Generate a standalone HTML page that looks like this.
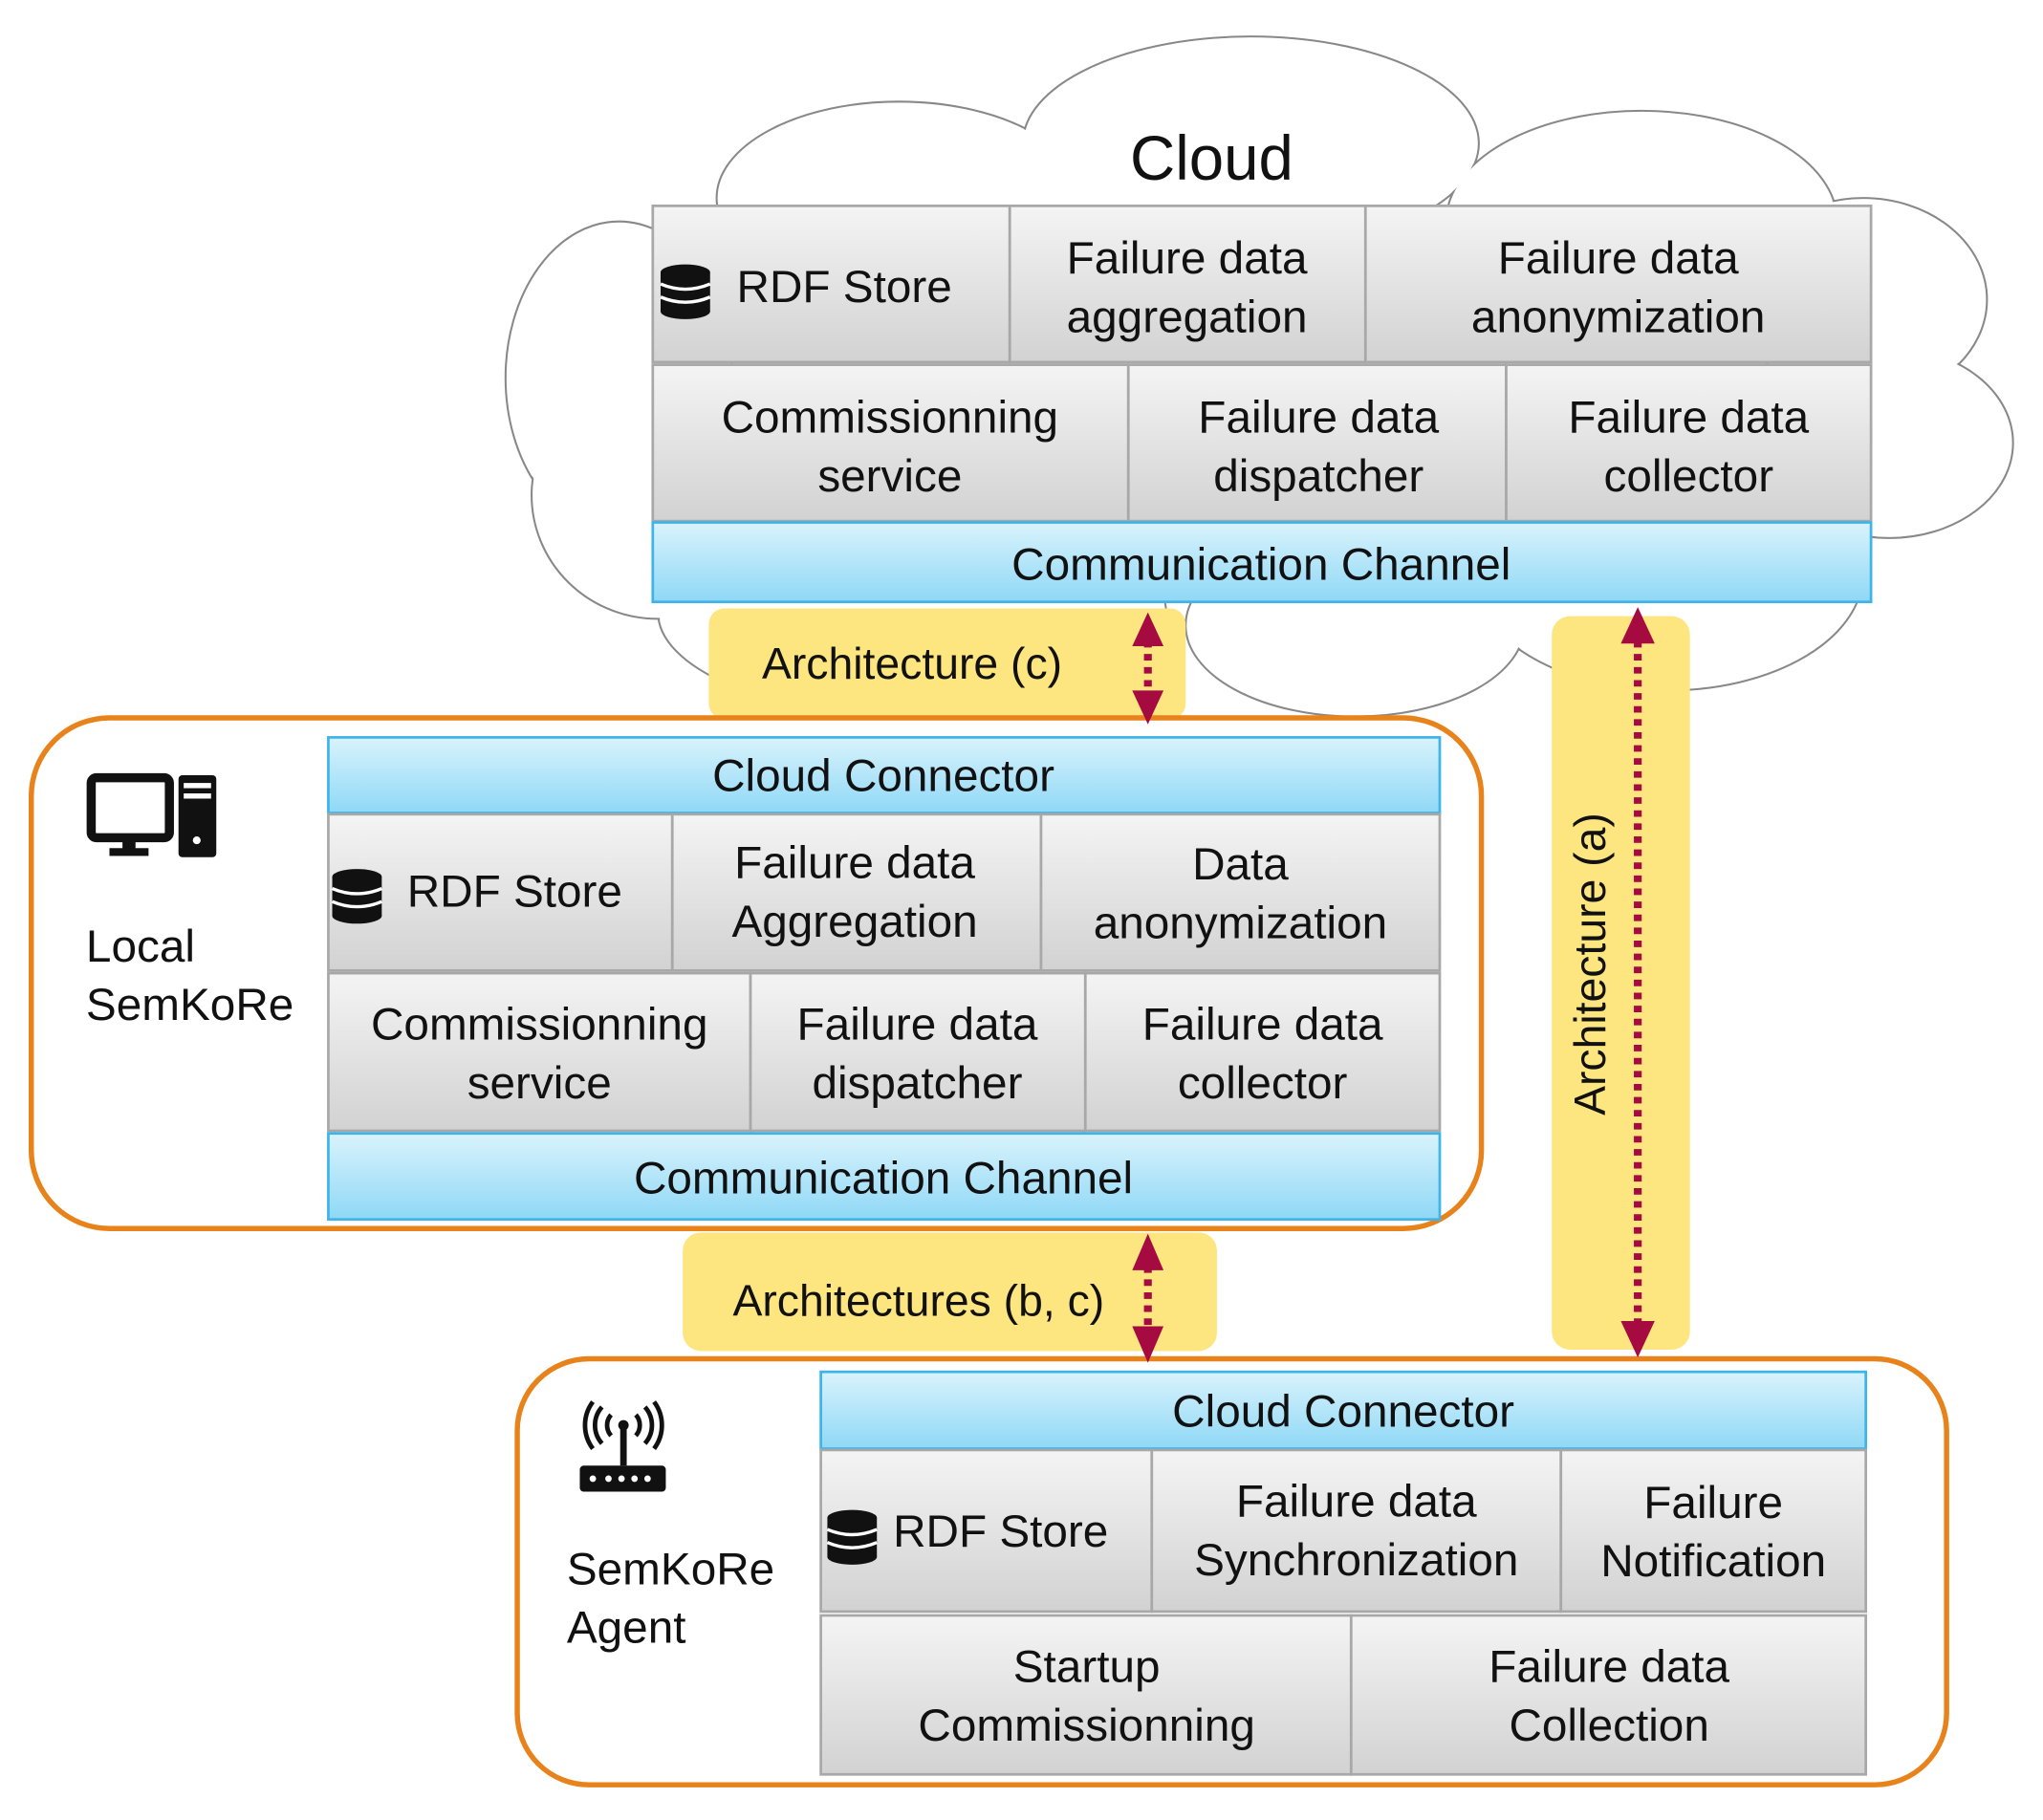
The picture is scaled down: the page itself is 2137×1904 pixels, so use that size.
<!DOCTYPE html>
<html><head><meta charset="utf-8"><style>
html,body{margin:0;padding:0;background:#fff}
svg{display:block}
text{font-family:"Liberation Sans",Arial,sans-serif;fill:#111}
</style></head><body>
<svg width="2137" height="1904" viewBox="0 0 1568 1397" preserveAspectRatio="none" xmlns="http://www.w3.org/2000/svg">
<defs>
<linearGradient id="g" x1="0" y1="0" x2="0" y2="1"><stop offset="0" stop-color="#f4f4f4"/><stop offset="1" stop-color="#d2d2d2"/></linearGradient>
<linearGradient id="b" x1="0" y1="0" x2="0" y2="1"><stop offset="0" stop-color="#d9f3fc"/><stop offset="1" stop-color="#8fd8f6"/></linearGradient>
<g id="db"><ellipse cx="0" cy="0" rx="19" ry="6" fill="#111"/><rect x="-19" y="0" width="38" height="30" fill="#111"/><ellipse cx="0" cy="30" rx="19" ry="6" fill="#111"/>
<path d="M-19 9 Q0 17 19 9 M-19 19 Q0 27 19 19" stroke="#fff" stroke-width="2.5" fill="none"/></g>
</defs>
<!-- cloud -->
<g stroke="#888" stroke-width="1.5" fill="#fff">
<ellipse cx="475" cy="290" rx="87" ry="120"/><ellipse cx="690" cy="152" rx="140" ry="74"/><ellipse cx="960" cy="110" rx="175" ry="82"/><ellipse cx="1260" cy="170" rx="150" ry="85"/><ellipse cx="1430" cy="230" rx="95" ry="78"/><ellipse cx="1450" cy="340" rx="95" ry="73"/><ellipse cx="1280" cy="440" rx="150" ry="90"/><ellipse cx="1040" cy="480" rx="130" ry="70"/><ellipse cx="700" cy="470" rx="195" ry="80"/><ellipse cx="505" cy="380" rx="97" ry="95"/>
</g>
<g fill="#fff">
<ellipse cx="475" cy="290" rx="86" ry="119"/><ellipse cx="690" cy="152" rx="139" ry="73"/><ellipse cx="960" cy="110" rx="174" ry="81"/><ellipse cx="1260" cy="170" rx="149" ry="84"/><ellipse cx="1430" cy="230" rx="94" ry="77"/><ellipse cx="1450" cy="340" rx="94" ry="72"/><ellipse cx="1280" cy="440" rx="149" ry="89"/><ellipse cx="1040" cy="480" rx="129" ry="69"/><ellipse cx="700" cy="470" rx="194" ry="79"/><ellipse cx="505" cy="380" rx="96" ry="94"/>
</g>
<text x="930" y="138" font-size="48" text-anchor="middle">Cloud</text>

<!-- yellow bands -->
<rect x="544" y="467" width="366" height="85" rx="12" fill="#fde580"/>
<rect x="1191" y="473" width="106" height="563" rx="14" fill="#fde580"/>
<rect x="524" y="946" width="410" height="91" rx="14" fill="#fde580"/>
<text x="700" y="521" font-size="34" text-anchor="middle">Architecture (c)</text>
<text x="705" y="1010" font-size="34" text-anchor="middle">Architectures (b, c)</text>
<text transform="translate(1232,740) rotate(-90)" font-size="34" text-anchor="middle">Architecture (a)</text>

<!-- orange boxes -->
<rect x="24" y="551" width="1113" height="392" rx="60" fill="none" stroke="#e8821a" stroke-width="4"/>
<rect x="397" y="1043" width="1097" height="327" rx="55" fill="none" stroke="#e8821a" stroke-width="4"/>

<g font-size="35" text-anchor="middle" stroke-width="2">
<!-- cloud grid -->
<g stroke="#a8a8a8" fill="url(#g)">
<rect x="501" y="158" width="274" height="120"/><rect x="775" y="158" width="273" height="120"/><rect x="1048" y="158" width="388" height="120"/>
<rect x="501" y="280" width="365" height="120"/><rect x="866" y="280" width="290" height="120"/><rect x="1156" y="280" width="280" height="120"/>
</g>
<rect x="501" y="401" width="935" height="61" fill="url(#b)" stroke="#3fb4e8"/>
<use href="#db" x="526" y="209"/>
<text x="648" y="232">RDF Store</text>
<text x="911" y="210">Failure data</text><text x="911" y="255">aggregation</text>
<text x="1242" y="210">Failure data</text><text x="1242" y="255">anonymization</text>
<text x="683" y="332">Commissionning</text><text x="683" y="377">service</text>
<text x="1012" y="332">Failure data</text><text x="1012" y="377">dispatcher</text>
<text x="1296" y="332">Failure data</text><text x="1296" y="377">collector</text>
<text x="968" y="445">Communication Channel</text>

<!-- local grid -->
<rect x="252" y="566" width="853" height="58" fill="url(#b)" stroke="#3fb4e8"/>
<g stroke="#a8a8a8" fill="url(#g)">
<rect x="252" y="625" width="264" height="120"/><rect x="516" y="625" width="283" height="120"/><rect x="799" y="625" width="306" height="120"/>
<rect x="252" y="747" width="324" height="121"/><rect x="576" y="747" width="257" height="121"/><rect x="833" y="747" width="272" height="121"/>
</g>
<rect x="252" y="870" width="853" height="66" fill="url(#b)" stroke="#3fb4e8"/>
<text x="678" y="607">Cloud Connector</text>
<use href="#db" x="274" y="673"/>
<text x="395" y="696">RDF Store</text>
<text x="656" y="674">Failure data</text><text x="656" y="719">Aggregation</text>
<text x="952" y="675">Data</text><text x="952" y="720">anonymization</text>
<text x="414" y="798">Commissionning</text><text x="414" y="843">service</text>
<text x="704" y="798">Failure data</text><text x="704" y="843">dispatcher</text>
<text x="969" y="798">Failure data</text><text x="969" y="843">collector</text>
<text x="678" y="916">Communication Channel</text>

<!-- agent grid -->
<rect x="630" y="1053" width="802" height="59" fill="url(#b)" stroke="#3fb4e8"/>
<g stroke="#a8a8a8" fill="url(#g)">
<rect x="630" y="1113" width="254" height="124"/><rect x="884" y="1113" width="314" height="124"/><rect x="1198" y="1113" width="234" height="124"/>
<rect x="630" y="1240" width="407" height="122"/><rect x="1037" y="1240" width="395" height="122"/>
</g>
<text x="1031" y="1095">Cloud Connector</text>
<use href="#db" x="654" y="1165"/>
<text x="768" y="1187">RDF Store</text>
<text x="1041" y="1164">Failure data</text><text x="1041" y="1209">Synchronization</text>
<text x="1315" y="1165">Failure</text><text x="1315" y="1210">Notification</text>
<text x="834" y="1291">Startup</text><text x="834" y="1336">Commissionning</text>
<text x="1235" y="1291">Failure data</text><text x="1235" y="1336">Collection</text>
</g>

<!-- side labels -->
<g font-size="35">
<text x="66" y="738">Local</text><text x="66" y="783">SemKoRe</text>
<text x="435" y="1216">SemKoRe</text><text x="435" y="1261">Agent</text>
</g>

<!-- computer icon -->
<rect x="70" y="597" width="60" height="46" rx="4" fill="none" stroke="#111" stroke-width="7"/>
<rect x="94" y="643" width="10" height="9" fill="#111"/><rect x="84" y="651" width="30" height="6" fill="#111"/>
<rect x="137" y="595" width="29" height="63" rx="3" fill="#111"/>
<rect x="141" y="601" width="21" height="4" fill="#fff"/><rect x="141" y="609" width="21" height="4" fill="#fff"/><circle cx="151" cy="645" r="3" fill="#fff"/>
<!-- router icon -->
<rect x="445" y="1125" width="66" height="20" rx="3" fill="#111"/>
<rect x="476" y="1095" width="5" height="30" fill="#111"/><circle cx="478.5" cy="1094" r="4" fill="#111"/>
<g fill="none" stroke="#111" stroke-width="3.5">
<path d="M469 1086 a12 12 0 0 0 0 16 M488 1086 a12 12 0 0 1 0 16"/>
<path d="M462 1080 a21 21 0 0 0 0 28 M495 1080 a21 21 0 0 1 0 28"/>
<path d="M455 1076 a30 30 0 0 0 0 36 M502 1076 a30 30 0 0 1 0 36"/>
</g>
<g fill="#fff"><circle cx="455" cy="1135" r="2.5"/><circle cx="467" cy="1135" r="2.5"/><circle cx="477" cy="1135" r="2.5"/><circle cx="487" cy="1135" r="2.5"/><circle cx="497" cy="1135" r="2.5"/></g>

<!-- arrows -->
<g stroke="#a50a40" stroke-width="6" stroke-dasharray="5 5">
<line x1="881" y1="492" x2="881" y2="535"/>
<line x1="1257" y1="492" x2="1257" y2="1018"/>
<line x1="881" y1="972" x2="881" y2="1022"/>
</g>
<g fill="#a50a40">
<polygon points="881,470 869,496 893,496"/><polygon points="881,556 869,530 893,530"/>
<polygon points="1257,466 1244,494 1270,494"/><polygon points="1257,1042 1244,1014 1270,1014"/>
<polygon points="881,947 869,975 893,975"/><polygon points="881,1046 869,1018 893,1018"/>
</g>
</svg>
</body></html>
